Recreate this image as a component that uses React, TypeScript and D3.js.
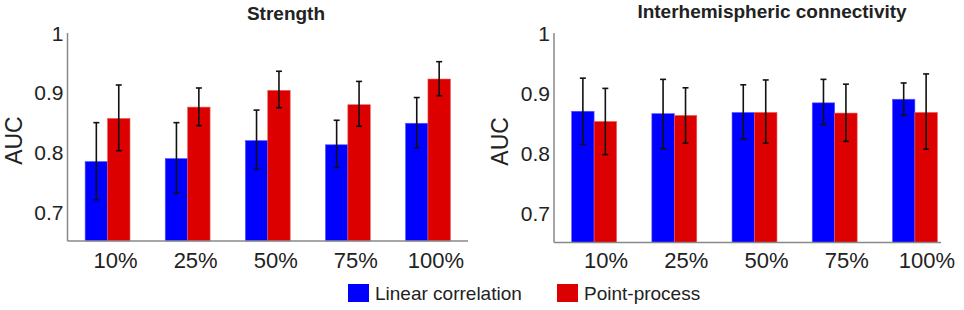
import React from "react";
import * as d3 from "d3";

const categories = ["10%", "25%", "50%", "75%", "100%"];
const seriesNames = ["Linear correlation", "Point-process"];
const seriesColors = ["#0000FF", "#DD0000"];
const yTicks = [0.7, 0.8, 0.9, 1];

// Strength panel
const strengthLinear = [0.785, 0.79, 0.82, 0.813, 0.849];
const strengthLinearLo = [0.721, 0.732, 0.772, 0.775, 0.808];
const strengthLinearHi = [0.85, 0.85, 0.871, 0.854, 0.892];
const strengthPoint = [0.857, 0.876, 0.904, 0.88, 0.923];
const strengthPointLo = [0.803, 0.845, 0.875, 0.844, 0.895];
const strengthPointHi = [0.913, 0.908, 0.936, 0.919, 0.952];

// Interhemispheric connectivity panel
const interLinear = [0.87, 0.866, 0.868, 0.884, 0.89];
const interLinearLo = [0.815, 0.808, 0.824, 0.848, 0.863];
const interLinearHi = [0.925, 0.923, 0.914, 0.923, 0.917];
const interPoint = [0.853, 0.863, 0.868, 0.867, 0.868];
const interPointLo = [0.798, 0.817, 0.817, 0.82, 0.807];
const interPointHi = [0.908, 0.909, 0.922, 0.915, 0.932];

const FONT = "'Liberation Sans', Arial, Helvetica, sans-serif";

type PanelProps = {
  title: string;
  titleX: number;
  titleY: number;
  x0: number;
  x1: number;
  axisEnd: number;
  yTop: number;
  yBottom: number;
  labelDx: number;
  vals: number[][];
  lo: number[][];
  hi: number[][];
};

function Panel(p: PanelProps) {
  const x = d3.scaleBand<string>().domain(categories).range([p.x0, p.x1]);
  const y = d3.scaleLinear().domain([0.652, 1]).range([p.yBottom, p.yTop]);
  const bw = x.step() * 0.28;
  const inner = d3
    .scaleBand<string>()
    .domain(seriesNames)
    .range([-bw, bw]);
  return (
    <g>
      <text
        x={p.titleX}
        y={p.titleY}
        textAnchor="middle"
        fontFamily={FONT}
        fontWeight="bold"
        fontSize={19}
        fill="#222"
      >
        {p.title}
      </text>
      {categories.map((c, i) =>
        seriesNames.map((s, j) => {
          const cx = (x(c) as number) + x.bandwidth() / 2;
          const bx = cx + (inner(s) as number);
          const v = p.vals[j][i];
          const mid = bx + inner.bandwidth() / 2;
          return (
            <g key={c + s}>
              <rect
                x={bx}
                y={y(v)}
                width={inner.bandwidth()}
                height={y(0.652) - y(v)}
                fill={seriesColors[j]}
                stroke={j === 0 ? "#5a5aff" : "#e85a5a"}
                strokeWidth={0.6}
              />
              <line
                x1={mid}
                x2={mid}
                y1={y(p.lo[j][i])}
                y2={y(p.hi[j][i])}
                stroke="#111"
                strokeWidth={1.6}
              />
              <line
                x1={mid - 3}
                x2={mid + 3}
                y1={y(p.lo[j][i])}
                y2={y(p.lo[j][i])}
                stroke="#111"
                strokeWidth={1.6}
              />
              <line
                x1={mid - 3}
                x2={mid + 3}
                y1={y(p.hi[j][i])}
                y2={y(p.hi[j][i])}
                stroke="#111"
                strokeWidth={1.6}
              />
            </g>
          );
        })
      )}
      <line
        x1={p.x0}
        x2={p.x0}
        y1={y(1)}
        y2={y(0.652)}
        stroke="#888"
        strokeWidth={1.5}
      />
      <line
        x1={p.x0}
        x2={p.axisEnd}
        y1={y(0.652)}
        y2={y(0.652)}
        stroke="#888"
        strokeWidth={1.5}
      />
      {yTicks.map((t) => (
        <text
          key={t}
          x={p.x0 - 4}
          y={y(t)}
          dy="0.36em"
          textAnchor="end"
          fontFamily={FONT}
          fontSize={21}
          fill="#222"
        >
          {d3.format("~g")(t)}
        </text>
      ))}
      {categories.map((c) => (
        <text
          key={c}
          x={(x(c) as number) + x.bandwidth() / 2 + p.labelDx}
          y={268}
          textAnchor="middle"
          fontFamily={FONT}
          fontSize={22}
          fill="#222"
        >
          {c}
        </text>
      ))}
      <text
        transform={`translate(${p.x0 - 46},${y(0.82)}) rotate(-90)`}
        textAnchor="middle"
        fontFamily={FONT}
        fontSize={23}
        fill="#222"
      >
        AUC
      </text>
    </g>
  );
}

export default function App() {
  const legendX = [348, 557];
  return (
    <svg
      width={964}
      height={310}
      style={{ position: "absolute", left: 0, top: 0, background: "#fff" }}
    >
      <rect width={964} height={310} fill="#fff" />
      <Panel
        title="Strength"
        titleX={286}
        titleY={20}
        x0={67.5}
        x1={468}
        axisEnd={468}
        yTop={33}
        yBottom={241}
        labelDx={8}
        vals={[strengthLinear, strengthPoint]}
        lo={[strengthLinearLo, strengthPointLo]}
        hi={[strengthLinearHi, strengthPointHi]}
      />
      <Panel
        title="Interhemispheric connectivity"
        titleX={772}
        titleY={18}
        x0={554}
        x1={955}
        axisEnd={941}
        yTop={33}
        yBottom={242.5}
        labelDx={12}
        vals={[interLinear, interPoint]}
        lo={[interLinearLo, interPointLo]}
        hi={[interLinearHi, interPointHi]}
      />
      {seriesNames.map((s, j) => (
        <g key={s}>
          <rect
            x={legendX[j]}
            y={284}
            width={21}
            height={18}
            fill={seriesColors[j]}
          />
          <text
            x={legendX[j] + 27}
            y={300}
            fontFamily={FONT}
            fontSize={19}
            fill="#222"
          >
            {s}
          </text>
        </g>
      ))}
    </svg>
  );
}
